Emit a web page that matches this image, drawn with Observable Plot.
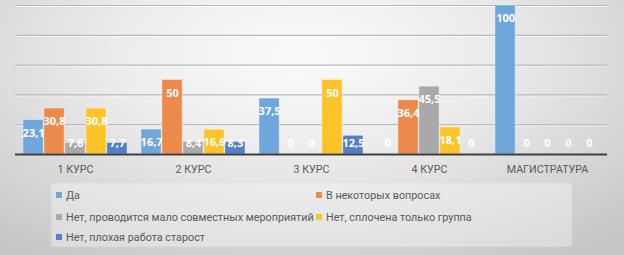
<!DOCTYPE html>
<html>
<head>
<meta charset="utf-8">
<script src="https://cdn.jsdelivr.net/npm/d3@7"></script>
<script src="https://cdn.jsdelivr.net/npm/@observablehq/plot@0.6"></script>
<style>
  html, body { margin: 0; padding: 0; }
  #chart {
    position: relative; width: 624px; height: 255px; overflow: hidden;
    background: radial-gradient(ellipse 75% 95% at 48% 22%, #fbfbfb 0%, #ececec 40%, #d6d6d6 75%, #c6c6c6 100%);
    font-family: Roboto, sans-serif;
  }
  #plot { position: absolute; left: 0; top: 0; }
  #legend {
    position: absolute; left: 52px; top: 184px; width: 519px; height: 62px;
    background: rgba(255,255,255,0.33);
    box-shadow: 0 0 0 1px rgba(255,255,255,0.25);
  }
  .item { position: absolute; display: flex; align-items: center; font-size: 10.8px; color: #595959; white-space: nowrap; height: 14px; }
  .sw { width: 6px; height: 6px; margin-right: 4px; }
</style>
</head>
<body>
<div id="chart">
  <div id="plot"></div>
  <div id="legend"></div>
</div>
<script>
const categories = ["1 КУРС", "2 КУРС", "3 КУРС", "4 КУРС", "МАГИСТРАТУРА"];
const seriesNames = [
  "Да",
  "В некоторых вопросах",
  "Нет, проводится мало совместных мероприятий",
  "Нет, сплочена только группа",
  "Нет, плохая работа старост"
];
const da        = [23.1, 16.7, 37.5, 0,    100];
const nekotorye = [30.8, 50,   0,    36.4, 0];
const malo      = [7.6,  8.4,  0,    45.5, 0];
const gruppa    = [30.8, 16.6, 50,   18.1, 0];
const starosty  = [7.7,  8.3,  12.5, 0,    0];
const colors = ["#6fa6db", "#ec8a4b", "#a9a9a9", "#fdc42a", "#5580c9"];

const seriesValues = [da, nekotorye, malo, gruppa, starosty];
const series = seriesValues.map((vals, i) =>
  categories.map((cat, j) => ({cat, value: vals[j], series: seriesNames[i]}))
);

const W = 624, H = 180, mL = 15, mR = 17;
const pIn = 0.115, pOut = 0.0575;
const step = (W - mL - mR) / (categories.length - pIn + 2 * pOut);
const bw = step * (1 - pIn) / seriesNames.length;
const fmt = v => String(v).replace(".", ",");

const marks = [
  Plot.ruleY([20, 40, 60, 80, 100], {stroke: "#ffffff", strokeOpacity: 0.7, dy: 1}),
  Plot.ruleY([20, 40, 60, 80, 100], {stroke: "#b9b9b9", strokeWidth: 1.2})
];
series.forEach((data, i) => {
  marks.push(Plot.barY(data, {
    x: "cat", y: "value", fill: colors[i],
    stroke: "#ffffff", strokeOpacity: 0.35, strokeWidth: 1,
    insetLeft: i * bw, insetRight: (seriesNames.length - 1 - i) * bw
  }));
});
marks.push(Plot.ruleY([0], {stroke: "#404040", strokeWidth: 2}));
series.forEach((data, i) => {
  const dx = (i - 2) * bw;
  const common = {x: "cat", text: d => fmt(d.value), fill: "white", fontWeight: "bold", fontSize: 11, fontFamily: "Open Sans, sans-serif", dx};
  marks.push(Plot.text(data, {...common, filter: d => d.value >= 16, y: "value", dy: 13}));
  marks.push(Plot.text(data, {...common, filter: d => d.value < 16, y: () => 0, dy: -11}));
});

const plot = Plot.plot({
  width: W, height: H,
  marginLeft: mL, marginRight: mR, marginTop: 5, marginBottom: 26,
  style: {background: "transparent", fontFamily: "Roboto, sans-serif", fontSize: "10.7px", color: "#595959"},
  x: {domain: categories, paddingInner: pIn, paddingOuter: pOut, tickSize: 0, tickPadding: 11, label: null},
  y: {domain: [0, 100], axis: null},
  marks
});
document.getElementById("plot").appendChild(plot);

const legend = document.getElementById("legend");
const pos = [[4, 4], [264, 4], [4, 26], [264, 26], [4, 46]];
seriesNames.forEach((name, i) => {
  const it = document.createElement("div");
  it.className = "item";
  it.style.left = pos[i][0] + "px";
  it.style.top = pos[i][1] + "px";
  const sw = document.createElement("span");
  sw.className = "sw";
  sw.style.background = colors[i];
  it.appendChild(sw);
  it.appendChild(document.createTextNode(name));
  legend.appendChild(it);
});
</script>
</body>
</html>
